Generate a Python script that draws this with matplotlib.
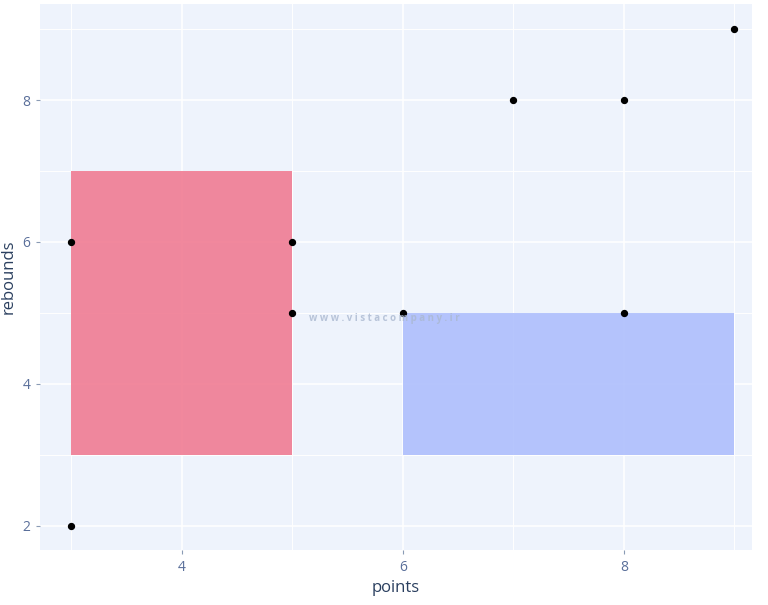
import matplotlib
matplotlib.use("Agg")
import matplotlib.pyplot as plt
from matplotlib.patches import Rectangle

plt.rcParams['font.family'] = ['Open Sans', 'DejaVu Sans']

# Data
points = [3, 3, 5, 5, 6, 7, 8, 8, 9]
rebounds = [6, 2, 6, 5, 5, 8, 8, 5, 9]

rect_xmin = [3, 6]
rect_xmax = [5, 9]
rect_ymin = [3, 3]
rect_ymax = [7, 5]
rect_colors = ["#F07890", "#ACBDFC"]

x_ticks = [4, 6, 8]
y_ticks = [2, 4, 6, 8]
x_minor = [3, 5, 7, 9]
y_minor = [3, 5, 7, 9]

fig = plt.figure(figsize=(7.68, 6.05), dpi=100)
ax = fig.add_axes([0.052, 0.091, 0.927, 0.902])
ax.set_facecolor("#EEF3FC")

for x0, x1, y0, y1, c in zip(rect_xmin, rect_xmax, rect_ymin, rect_ymax, rect_colors):
    ax.add_patch(Rectangle((x0, y0), x1 - x0, y1 - y0, facecolor=c, edgecolor="none",
                           alpha=0.88, zorder=2))

ax.scatter(points, rebounds, s=18, color="black", zorder=4)

ax.set_xlim(2.715, 9.158)
ax.set_ylim(1.66, 9.35)
ax.set_xticks(x_ticks)
ax.set_yticks(y_ticks)
ax.set_xticks(x_minor, minor=True)
ax.set_yticks(y_minor, minor=True)
ax.set_axisbelow(True)
ax.grid(True, which="major", color="white", linewidth=1.1, zorder=1)
ax.grid(True, which="minor", color="white", linewidth=0.7, zorder=1)
for s in ax.spines.values():
    s.set_visible(False)
ax.tick_params(which="major", length=3, color="#8a9bb5", labelcolor="#5a6f9a", labelsize=10, pad=4)
ax.tick_params(which="minor", length=0)

ax.set_xlabel("points", color="#2a3f5f", fontsize=12, labelpad=4)
ax.set_ylabel("rebounds", color="#2a3f5f", fontsize=12, labelpad=4)

fig.text(0.5, 0.474, "w w w . v i s t a c o m p a n y . i r", color="#aab8d0", fontsize=7,
         fontweight="bold", ha="center", va="center", alpha=0.8)

fig.savefig("out.png", dpi=100, facecolor="white")
